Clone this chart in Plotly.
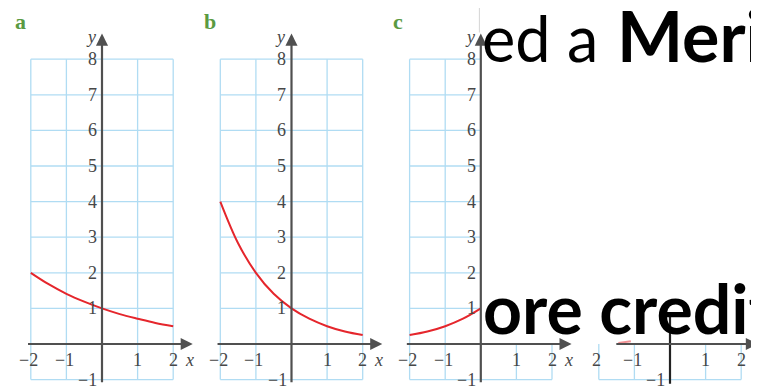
import plotly.graph_objects as go

# values
curve_x = [-2, -1.5, -1, -0.5, 0, 0.5, 1, 1.5, 2]
a_y = [2.0, 1.68, 1.41, 1.19, 1.0, 0.84, 0.71, 0.59, 0.5]
b_y = [4.0, 2.83, 2.0, 1.41, 1.0, 0.71, 0.5, 0.35, 0.25]
c_x = [-2, -1.5, -1, -0.5, 0]
c_y = [0.25, 0.35, 0.5, 0.71, 1.0]
d_x = [-1.45, -1.1]
d_y = [0.03, 0.08]

y_ticks = [1, 2, 3, 4, 5, 6, 7, 8]
x_ticks = [-2, -1, 1, 2]
x_tick_text = ["\u22122", "\u22121", "1", "2"]
panel_letters = ["a", "b", "c"]

W, H = 759, 390
OFF = 8  # page body margin
U = 35.6  # pixels per unit
Y0 = 344 - OFF  # pixel row of y = 0 inside the figure
ORIGINS = [p - OFF for p in [102, 291.5, 480.8, 670]]

GRID = "#b0dcf3"
AXIS = "#505050"
LABEL = "#474747"
RED = "#e5262c"
SERIF = "Liberation Serif"

fig = go.Figure()
shapes = []
annotations = []

y_range = [-(H - Y0) / U, Y0 / U]


def xa(i):
    return "x" if i == 0 else "x%d" % (i + 1)


for i, x0 in enumerate(ORIGINS):
    left = max(0, x0 - 2.9 * U)
    right = min(W, x0 + 2.9 * U)
    key = "xaxis" if i == 0 else "xaxis%d" % (i + 1)
    fig.layout[key] = dict(
        domain=[left / W, right / W],
        range=[(left - x0) / U, (right - x0) / U],
        visible=False,
        fixedrange=True,
    )


def line(i, x1, y1, x2, y2, color=GRID, width=1.3):
    shapes.append(
        dict(
            type="line", xref=xa(i), yref="y", x0=x1, y0=y1, x1=x2, y1=y2,
            line=dict(color=color, width=width), layer="below",
        )
    )


def arrow(i, x_from, y_from, x_to, y_to, color=AXIS):
    annotations.append(
        dict(
            xref=xa(i), yref="y", axref=xa(i), ayref="y",
            x=x_to, y=y_to, ax=x_from, ay=y_from, text="",
            showarrow=True, arrowhead=2, arrowsize=1.1, arrowwidth=2.2,
            arrowcolor=color,
        )
    )


def label(i, x, y, text, size=18, italic=False, color=LABEL):
    annotations.append(
        dict(
            xref=xa(i), yref="y", x=x, y=y, showarrow=False,
            text="<i>%s</i>" % text if italic else text,
            font=dict(family=SERIF, size=size, color=color),
        )
    )


def slide_text(px, py, text, size=70):
    # px = left edge, py = vertical middle, in page pixels
    annotations.append(
        dict(
            xref="paper", yref="paper", x=(px - OFF) / W, y=1 - (py - OFF) / H,
            xanchor="left", yanchor="middle", showarrow=False, text=text,
            font=dict(family="Lato", size=size, color="#000000"),
        )
    )


# panels a and b: full grid
for i in (0, 1):
    for gy in [-1] + y_ticks:
        line(i, -2, gy, 2, gy)
    for gx in x_ticks:
        line(i, gx, -1, gx, 8)

# panel c: right half hidden behind the slide
for gy in y_ticks:
    line(2, -2, gy, 0, gy)
line(2, -2, -1, 2, -1)
for gx in [-2, -1]:
    line(2, gx, -1, gx, 8)
for gx in [1, 2]:
    line(2, gx, -1, gx, 0)

# panel d: only the strip below the x axis
line(3, -2, -1, 2, -1)
for gx in x_ticks:
    line(3, gx, -1, gx, 0)

# axes
for i in (0, 1, 2):
    arrow(i, -2.12, 0, 2.55, 0)
    arrow(i, 0, -1.12, 0, 8.72)
    label(i, -0.31, 8.62, "y", italic=True)
    for t in y_ticks:
        label(i, -0.27, t, str(t))
    label(i, -0.4, -1, "\u22121")
    for t, s in zip(x_ticks, x_tick_text):
        label(i, t - 0.06 if t < 0 else t, -0.46, s)
    label(i, 2.45, -0.46, "x", italic=True)

arrow(3, -1.55, 0, 2.47, 0)
line(3, 0, -1.12, 0, 0.76, color="#222222", width=2.2)
label(3, -0.4, -1, "\u22121")
for t, s in zip(x_ticks, ["2", "\u22121", "1", "2"]):
    label(3, t - 0.06 if t < 0 else t, -0.46, s)
label(3, 2.5, -0.46, "x", italic=True)

# faint slide edge above panel c's y arrow
line(2, -0.04, 8.75, -0.04, 9.7, color="#d4d4d4", width=1)

# panel letters
for i, s in enumerate(panel_letters):
    annotations.append(
        dict(
            xref=xa(i), yref="y", x=-2.28 if i < 2 else -2.33, y=9.05,
            text="<b>%s</b>" % s, showarrow=False,
            font=dict(family=SERIF, size=22, color="#5a9a42"),
        )
    )

# curves
for i, ys in [(0, a_y), (1, b_y)]:
    fig.add_trace(
        go.Scatter(
            x=curve_x, y=ys, xaxis=xa(i), yaxis="y", mode="lines",
            line=dict(color=RED, width=2, shape="spline"), hoverinfo="skip",
        )
    )
fig.add_trace(
    go.Scatter(
        x=c_x, y=c_y, xaxis="x3", yaxis="y", mode="lines",
        line=dict(color=RED, width=2, shape="spline"), hoverinfo="skip",
    )
)
fig.add_trace(
    go.Scatter(
        x=d_x, y=d_y, xaxis="x4", yaxis="y", mode="lines", opacity=0.5,
        line=dict(color=RED, width=2), hoverinfo="skip",
    )
)

# slide text on top
slide_text(480, 38, "ed", size=63)
slide_text(565, 38, "a", size=63)
slide_text(615, 35, "<b>Meri</b>")
slide_text(481, 307, "<b>ore credit</b>", size=68)

fig.update_layout(
    width=W,
    height=H,
    margin=dict(l=0, r=0, t=0, b=0),
    plot_bgcolor="white",
    paper_bgcolor="white",
    showlegend=False,
    yaxis=dict(domain=[0, 1], range=y_range, visible=False, fixedrange=True),
    shapes=shapes,
    annotations=annotations,
)

fig.write_html("out.html", config={"displayModeBar": False})
